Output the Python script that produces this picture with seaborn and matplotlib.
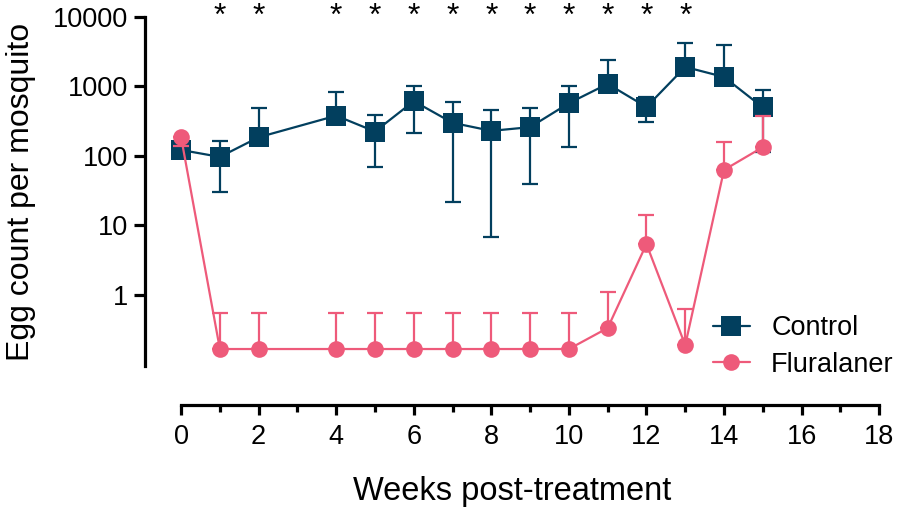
import numpy as np
import pandas as pd
import matplotlib
matplotlib.use('Agg')
import matplotlib.pyplot as plt
from matplotlib.lines import Line2D
import seaborn as sns

# data (egg count per mosquito, log scale)
weeks = [0, 1, 2, 4, 5, 6, 7, 8, 9, 10, 11, 12, 13, 14, 15]
control = [122, 97, 186, 380, 225, 615, 300, 230, 260, 575, 1090, 507, 1910, 1370, 500]
control_hi = [135, 164, 490, 830, 390, 1020, 600, 460, 490, 1020, 2400, 700, 4200, 3950, 890]
control_lo = [100, 30, 186, 380, 69, 214, 22, 6.8, 40, 134, 1090, 310, 1910, 1370, 115]
flur = [186, 0.167, 0.167, 0.167, 0.167, 0.167, 0.167, 0.167, 0.167, 0.167, 0.335, 5.4, 0.19, 63, 134]
flur_hi = [186, 0.56, 0.56, 0.56, 0.56, 0.56, 0.56, 0.56, 0.56, 0.56, 1.12, 14, 0.63, 158, 380]
flur_lo = [140, 0.167, 0.167, 0.167, 0.167, 0.167, 0.167, 0.167, 0.167, 0.167, 0.335, 5.4, 0.19, 63, 134]
star_weeks = [1, 2, 4, 5, 6, 7, 8, 9, 10, 11, 12, 13]

c_col = '#023F5E'
f_col = '#EE5A7A'

sns.set_style('ticks', {'axes.edgecolor': 'black', 'text.color': 'black',
                        'axes.labelcolor': 'black', 'xtick.color': 'black',
                        'ytick.color': 'black'})
plt.rcParams['font.family'] = ['Liberation Sans', 'DejaVu Sans']

df = pd.DataFrame({
    'week': weeks * 2,
    'eggs': control + flur,
    'group': ['Control'] * len(weeks) + ['Fluralaner'] * len(weeks),
})

fig = plt.figure(figsize=(8.98, 5.07), dpi=100)
ax = fig.add_axes([0.1615, 0.278, 0.8175, 0.6885])

# error bars
c = np.array(control)
ax.errorbar(weeks, control, yerr=[c - np.array(control_lo), np.array(control_hi) - c],
            fmt='none', ecolor=c_col, elinewidth=1.6, capsize=5.5, capthick=1.6, zorder=2)
f = np.array(flur)
ax.errorbar(weeks, flur, yerr=[f - np.array(flur_lo), np.array(flur_hi) - f],
            fmt='none', ecolor=f_col, elinewidth=1.6, capsize=5.5, capthick=1.6, zorder=4)

sns.lineplot(data=df[df.group == 'Control'], x='week', y='eggs', color=c_col,
             marker='s', markersize=14, markeredgewidth=0, linewidth=1.6,
             ax=ax, zorder=3, legend=False)
sns.lineplot(data=df[df.group == 'Fluralaner'], x='week', y='eggs', color=f_col,
             marker='o', markersize=12, markeredgewidth=0, linewidth=1.6,
             ax=ax, zorder=5, legend=False)

ax.set_yscale('log')
ax.set_ylim(0.095, 10000)
ax.set_xlim(-0.93, 18)
ax.set_yticks([1, 10, 100, 1000, 10000])
ax.set_yticklabels(['1', '10', '100', '1000', '10000'])
ax.yaxis.set_minor_locator(matplotlib.ticker.NullLocator())
ax.set_xticks(range(0, 19, 2))
ax.set_xticks(range(1, 18, 2), minor=True)

for sp in ['top', 'right']:
    ax.spines[sp].set_visible(False)
ax.spines['left'].set_linewidth(2.3)
ax.spines['bottom'].set_linewidth(2.3)
ax.spines['bottom'].set_position(('outward', 28))
ax.spines['bottom'].set_bounds(0, 18)
ax.tick_params(axis='both', which='major', width=2.3, length=8, labelsize=19.5, color='black', pad=4)
ax.tick_params(axis='x', which='minor', width=2.3, length=5, color='black')
ax.tick_params(axis='x', which='major', length=7.5, pad=6)

ax.set_xlabel('Weeks post-treatment', fontsize=23.5, labelpad=19)
ax.set_ylabel('Egg count per mosquito', fontsize=23, labelpad=12)

for w in star_weeks:
    ax.text(w, 10000, '*', ha='center', va='center', fontsize=23, clip_on=False)

handles = [
    Line2D([], [], color=c_col, marker='s', markersize=14, markeredgewidth=0, linewidth=1.6),
    Line2D([], [], color=f_col, marker='o', markersize=12, markeredgewidth=0, linewidth=1.6),
]
fig.legend(handles, ['Control', 'Fluralaner'], loc='center left',
           bbox_to_anchor=(0.794, 0.3166), frameon=False, fontsize=19.5,
           handlelength=1.35, handletextpad=0.8, labelspacing=0.4, borderaxespad=0,
           borderpad=0)

fig.savefig('out.png', dpi=100)
